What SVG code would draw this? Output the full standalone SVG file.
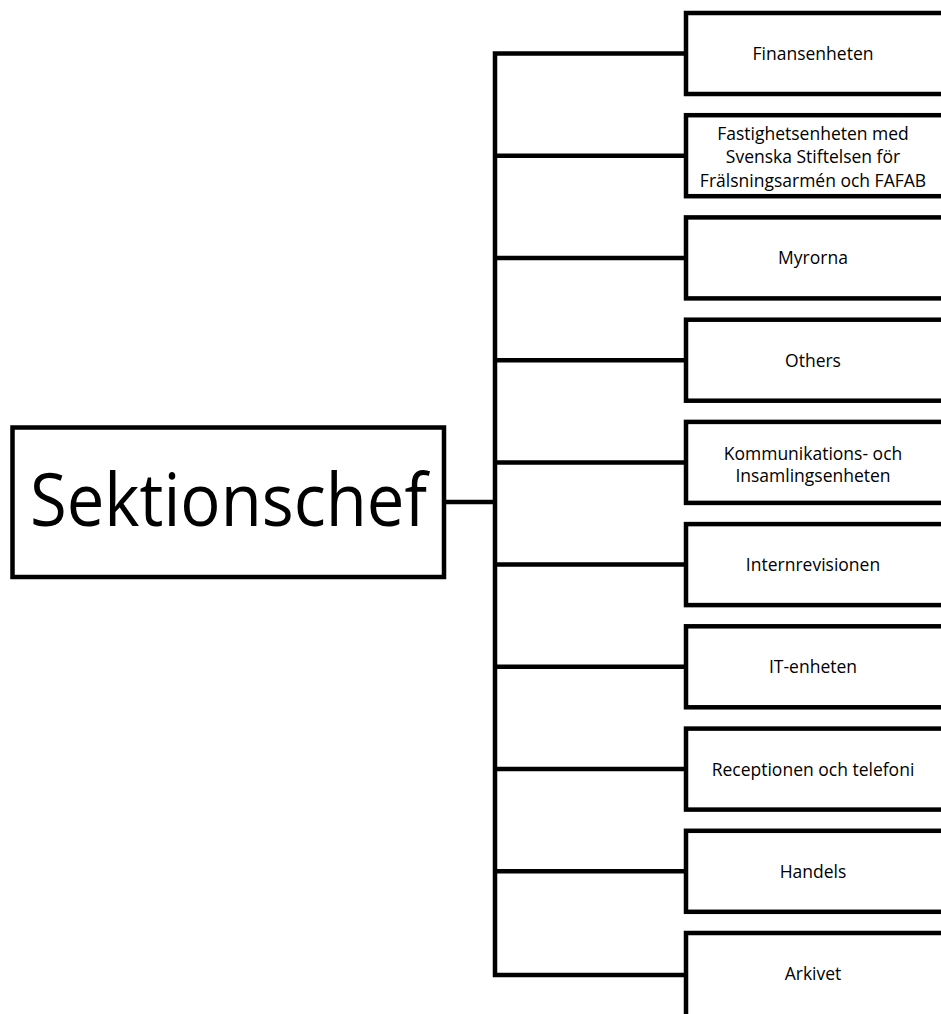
<svg xmlns="http://www.w3.org/2000/svg" width="941" height="1014" viewBox="0 0 941 1014">
<style>
.box{fill:#fff;stroke:#000;stroke-width:4.5;stroke-linejoin:miter}
.con{fill:none;stroke:#000;stroke-width:4.5;stroke-linejoin:miter}
.t{font-family:"Open Sans","Noto Sans",sans-serif;font-size:17.5px;fill:#000;text-anchor:middle}
.big{font-family:"Open Sans","Noto Sans",sans-serif;font-size:73px;fill:#000;text-anchor:middle}
</style>
<rect width="941" height="1014" fill="#fff"/>
<g id="connectors">
<path class="con" d="M686 53.5H495V975H686"/>
<path class="con" d="M444 502H495"/>
<path class="con" d="M495 155.7H686M495 257.9H686M495 360.2H686M495 462.4H686M495 564.6H686M495 666.8H686M495 769.1H686M495 871.3H686"/>
</g>
<g id="sektionschef">
<rect class="box" x="12.5" y="427.5" width="431.5" height="149.5"/>
<text class="big" x="228.5" y="526" textLength="397" lengthAdjust="spacingAndGlyphs">Sektionschef</text>
</g>
<g id="finansenheten">
<rect class="box" x="686" y="13" width="258" height="81"/>
<text class="t" x="813" y="59.5">Finansenheten</text>
</g>
<g id="fastighetsenheten">
<rect class="box" x="686" y="115.2" width="258" height="81"/>
<text class="t" x="813" y="139.5">Fastighetsenheten med</text>
<text class="t" x="813" y="163">Svenska Stiftelsen för</text>
<text class="t" x="813" y="186.5">Frälsningsarmén och FAFAB</text>
</g>
<g id="myrorna">
<rect class="box" x="686" y="217.4" width="258" height="81"/>
<text class="t" x="813" y="264">Myrorna</text>
</g>
<g id="others">
<rect class="box" x="686" y="319.7" width="258" height="81"/>
<text class="t" x="813" y="366.5">Others</text>
</g>
<g id="kommunikation">
<rect class="box" x="686" y="421.9" width="258" height="81"/>
<text class="t" x="813" y="459.5">Kommunikations- och</text>
<text class="t" x="813" y="481.5">Insamlingsenheten</text>
</g>
<g id="internrevisionen">
<rect class="box" x="686" y="524.1" width="258" height="81"/>
<text class="t" x="813" y="571">Internrevisionen</text>
</g>
<g id="it-enheten">
<rect class="box" x="686" y="626.3" width="258" height="81"/>
<text class="t" x="813" y="673">IT-enheten</text>
</g>
<g id="receptionen">
<rect class="box" x="686" y="728.6" width="258" height="81"/>
<text class="t" x="813" y="775.5">Receptionen och telefoni</text>
</g>
<g id="handels">
<rect class="box" x="686" y="830.8" width="258" height="81"/>
<text class="t" x="813" y="877.5">Handels</text>
</g>
<g id="arkivet">
<rect class="box" x="686" y="933" width="258" height="84"/>
<text class="t" x="813" y="980">Arkivet</text>
</g>
</svg>
